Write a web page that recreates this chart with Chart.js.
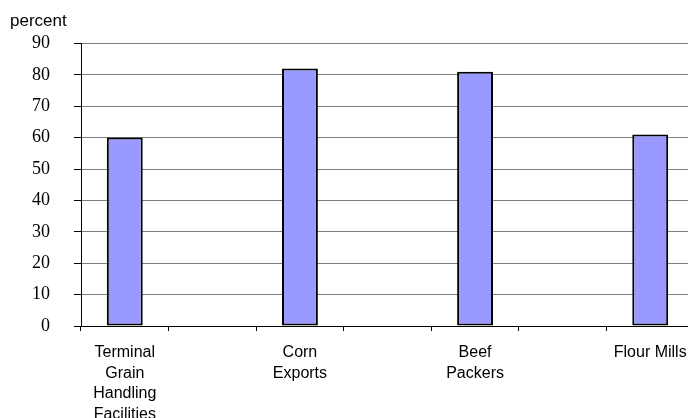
<!DOCTYPE html>
<html>
<head>
<meta charset="utf-8">
<script src="https://cdn.jsdelivr.net/npm/chart.js@4/dist/chart.umd.min.js"></script>
<style>
  html, body { margin: 0; padding: 0; background: #fff; width: 688px; height: 418px; overflow: hidden; }
  #wrap { width: 694px; height: 418px; }
</style>
</head>
<body>
<div id="wrap"><canvas id="chart" width="694" height="418"></canvas></div>
<script>
// categorie (prazne vmes, kot v originalu)
const categories = [
  ["Terminal", "Grain", "Handling", "Facilities"],
  "",
  ["Corn", "Exports"],
  "",
  ["Beef", "Packers"],
  "",
  "Flour Mills"
];
const percentValues = [60, null, 82, null, 81, null, 61];
const yTicks = [0, 10, 20, 30, 40, 50, 60, 70, 80, 90];

const ctx = document.getElementById('chart').getContext('2d');

new Chart(ctx, {
  type: 'bar',
  data: {
    labels: categories,
    datasets: [{
      data: percentValues,
      backgroundColor: '#9999ff',
      borderColor: '#000000',
      borderWidth: 2,
      borderSkipped: false,
      barPercentage: 0.41,
      categoryPercentage: 1.0
    }]
  },
  options: {
    responsive: false,
    animation: false,
    layout: { padding: { left: 10, top: 0, right: 0, bottom: 0 } },
    plugins: {
      legend: { display: false },
      tooltip: { enabled: false },
      title: {
        display: true,
        text: 'percent',
        align: 'start',
        color: '#000',
        font: { family: 'Liberation Sans, Arial, sans-serif', size: 17, weight: 'normal', lineHeight: 1.2 },
        padding: { top: 11, bottom: 12 }
      }
    },
    scales: {
      x: {
        afterFit: (s) => {
          s.height = 92;
          s.paddingLeft = 0;
          s.paddingRight = 0;
        },
        grid: {
          display: true,
          drawOnChartArea: false,
          drawTicks: true,
          tickLength: 5,
          tickColor: '#000'
        },
        border: { display: true, color: '#000', width: 1 },
        ticks: {
          color: '#000',
          autoSkip: false,
          maxRotation: 0,
          padding: 11,
          font: { family: 'Liberation Sans, Arial, sans-serif', size: 16, lineHeight: 1.3 }
        }
      },
      y: {
        min: yTicks[0],
        max: yTicks[yTicks.length - 1],
        afterFit: (s) => { s.width = 71; },
        afterBuildTicks: (s) => { s.ticks = yTicks.map(v => ({ value: v })); },
        grid: {
          color: '#808080',
          lineWidth: 1,
          tickLength: 7,
          tickColor: '#000'
        },
        border: { display: true, color: '#000', width: 1 },
        ticks: {
          color: '#000',
          padding: 24,
          font: { family: 'Liberation Serif, Times New Roman, serif', size: 18 }
        }
      }
    }
  }
});
</script>
</body>
</html>
